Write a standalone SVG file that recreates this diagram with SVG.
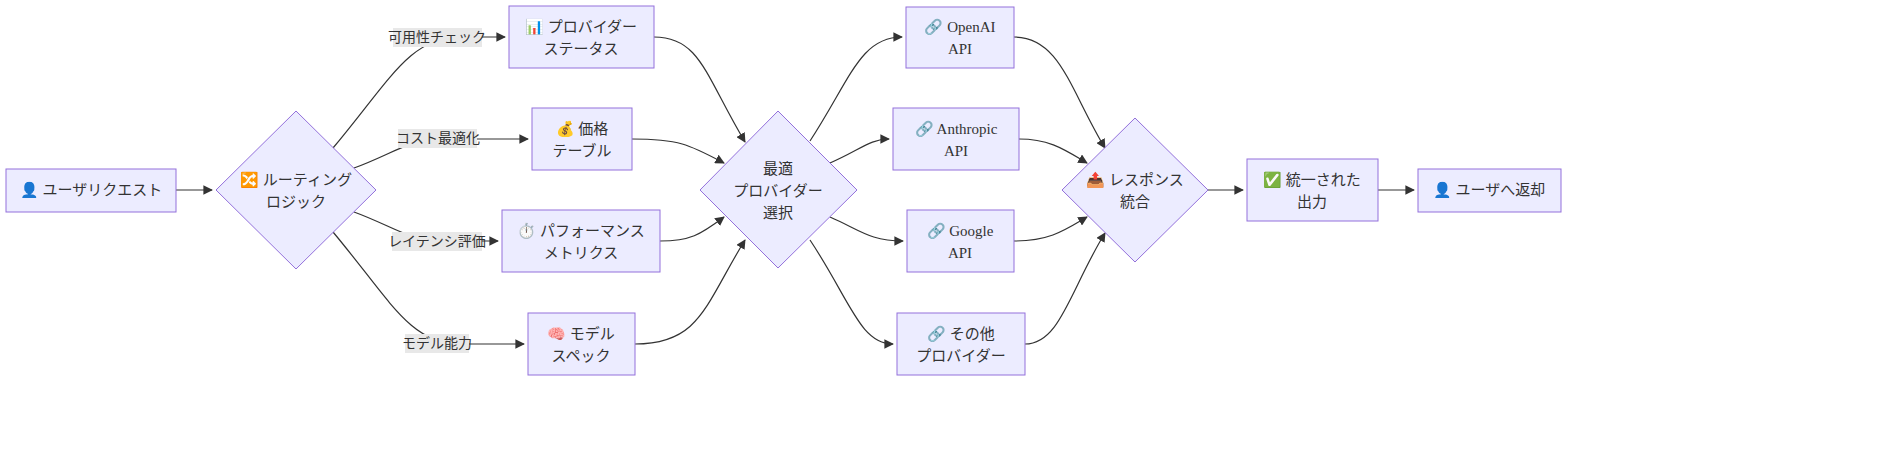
<svg xmlns="http://www.w3.org/2000/svg" width="1904" height="463" viewBox="0 0 1904 463">
<defs>
<marker id="ah" viewBox="0 0 10 10" refX="9" refY="5" markerWidth="8" markerHeight="8" orient="auto"><path d="M0,0 L10,5 L0,10 z" fill="#333"/></marker>
<style>
.n{fill:#ECECFF;stroke:#9370DB;stroke-width:1}
.t{font-family:"Liberation Serif","Noto Sans CJK JP",sans-serif;font-size:15px;fill:#333;text-anchor:middle}
.e{fill:none;stroke:#333;stroke-width:1.2;marker-end:url(#ah)}
.lb{fill:#e8e8e8}
.lt{font-family:"Liberation Sans","Noto Sans CJK JP",sans-serif;font-size:14px;fill:#333;text-anchor:middle}
</style>
</defs>
<rect width="1904" height="463" fill="#fff"/>
<g id="connectors">
<path class="e" d="M176,190 L212,190"/>
<path class="e" d="M333,148 C390,80 410,37 460,37 L505,37"/>
<path class="e" d="M354,168 C390,155 410,139 440,139 L528,139"/>
<path class="e" d="M354,212 C390,225 410,241 440,241 L498,241"/>
<path class="e" d="M333,232 C390,300 410,344 460,344 L524,344"/>
<path class="e" d="M654,37 C700,37 705,75 745,142"/>
<path class="e" d="M632,139 C680,139 690,145 724,163"/>
<path class="e" d="M660,241 C690,241 700,235 724,217"/>
<path class="e" d="M635,344 C700,344 705,305 745,240"/>
<path class="e" d="M810,141 C850,80 860,37 902,37"/>
<path class="e" d="M830,163 C860,150 870,139 889,139"/>
<path class="e" d="M830,217 C860,230 870,241 903,241"/>
<path class="e" d="M810,240 C850,300 860,344 893,344"/>
<path class="e" d="M1014,37 C1060,37 1070,90 1105,148"/>
<path class="e" d="M1019,139 C1050,139 1065,150 1087,163"/>
<path class="e" d="M1014,241 C1050,241 1065,230 1087,217"/>
<path class="e" d="M1025,344 C1060,344 1070,290 1105,233"/>
<path class="e" d="M1208,190 L1243,190"/>
<path class="e" d="M1378,190 L1414,190"/>
<rect class="lb" x="393" y="28" width="89" height="19"/><text class="lt" x="437" y="42">可用性チェック</text>
<rect class="lb" x="398" y="129" width="79" height="19"/><text class="lt" x="438" y="143">コスト最適化</text>
<rect class="lb" x="392" y="232" width="90" height="19"/><text class="lt" x="437" y="246">レイテンシ評価</text>
<rect class="lb" x="405" y="334" width="64" height="19"/><text class="lt" x="437" y="348">モデル能力</text>
</g>
<g id="user"><rect class="n" x="6" y="169" width="170" height="43"/><text class="t" x="91" y="195">👤 ユーザリクエスト</text></g>
<g id="routing"><polygon class="n" points="296,111 376,190 296,269 216,190"/><text class="t" x="296" y="185">🔀 ルーティング</text><text class="t" x="296" y="207">ロジック</text></g>
<g id="status"><rect class="n" x="509" y="6" width="145" height="62"/><text class="t" x="581" y="32">📊 プロバイダー</text><text class="t" x="581" y="54">ステータス</text></g>
<g id="price"><rect class="n" x="532" y="108" width="100" height="62"/><text class="t" x="582" y="134">💰 価格</text><text class="t" x="582" y="156">テーブル</text></g>
<g id="perf"><rect class="n" x="502" y="210" width="158" height="62"/><text class="t" x="581" y="236">⏱️ パフォーマンス</text><text class="t" x="581" y="258">メトリクス</text></g>
<g id="model"><rect class="n" x="528" y="313" width="107" height="62"/><text class="t" x="581" y="339">🧠 モデル</text><text class="t" x="581" y="361">スペック</text></g>
<g id="optimal"><polygon class="n" points="778,111 857,190 778,268 700,190"/><text class="t" x="778" y="174">最適</text><text class="t" x="778" y="196">プロバイダー</text><text class="t" x="778" y="218">選択</text></g>
<g id="openai"><rect class="n" x="906" y="7" width="108" height="61"/><text class="t" x="960" y="32">🔗 OpenAI</text><text class="t" x="960" y="54">API</text></g>
<g id="anthropic"><rect class="n" x="893" y="108" width="126" height="62"/><text class="t" x="956" y="134">🔗 Anthropic</text><text class="t" x="956" y="156">API</text></g>
<g id="google"><rect class="n" x="907" y="210" width="107" height="62"/><text class="t" x="960" y="236">🔗 Google</text><text class="t" x="960" y="258">API</text></g>
<g id="other"><rect class="n" x="897" y="313" width="128" height="62"/><text class="t" x="961" y="339">🔗 その他</text><text class="t" x="961" y="361">プロバイダー</text></g>
<g id="response"><polygon class="n" points="1135,118 1208,190 1135,262 1062,190"/><text class="t" x="1135" y="185">📤 レスポンス</text><text class="t" x="1135" y="207">統合</text></g>
<g id="unified"><rect class="n" x="1247" y="159" width="131" height="62"/><text class="t" x="1312" y="185">✅ 統一された</text><text class="t" x="1312" y="207">出力</text></g>
<g id="return"><rect class="n" x="1418" y="169" width="143" height="43"/><text class="t" x="1489" y="195">👤 ユーザへ返却</text></g>
</svg>
